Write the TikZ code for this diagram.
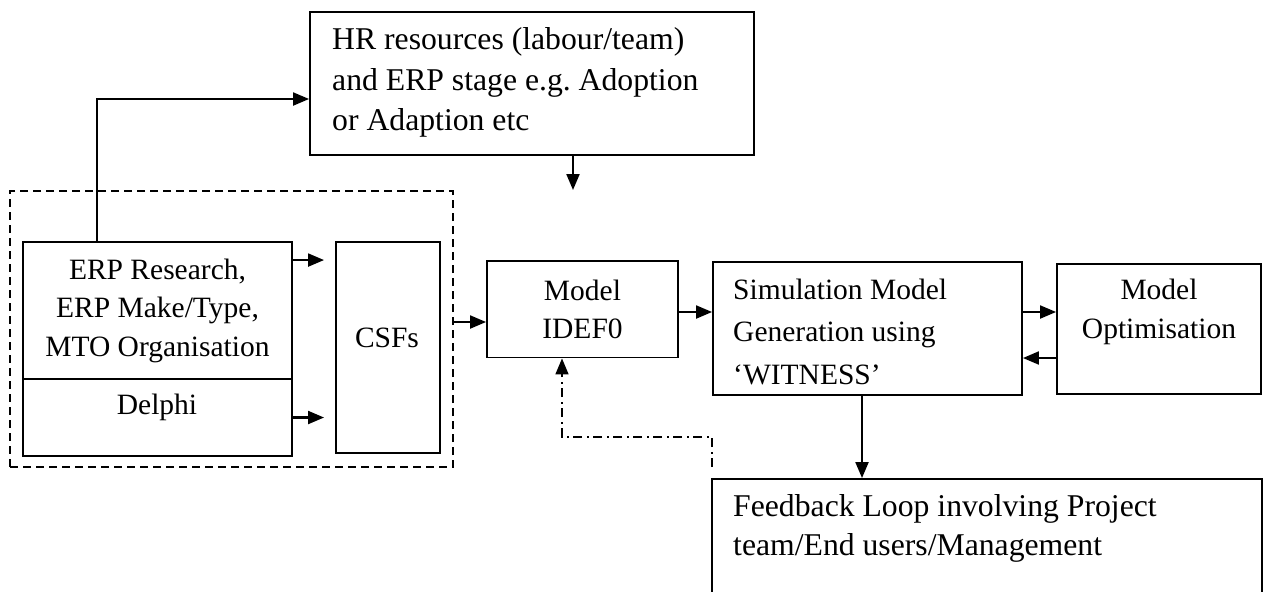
\documentclass[tikz,border=0pt]{standalone}
\usepackage{fontspec}
\setmainfont{Liberation Serif}
\usetikzlibrary{arrows.meta}
\begin{document}
\begin{tikzpicture}[x=1pt,y=-1pt,
  box/.style={draw, line width=1.9pt, inner sep=0pt},
  txt/.style={font=\fontsize{29.5}{39}\selectfont, inner sep=0pt},
  bigtxt/.style={font=\fontsize{31.7}{40.5}\selectfont, inner sep=0pt},
  arr/.style={line width=2.1pt, -{Triangle[length=16pt,width=13pt]}},
  dashdot/.style={line width=1.7pt, dash pattern=on 9pt off 4.5pt on 2pt off 4.5pt,
                  -{Triangle[length=16pt,width=13pt]}},
  groupbox/.style={draw, line width=1.5pt, dash pattern=on 8pt off 5pt, inner sep=0pt},
]
\useasboundingbox (0,0) rectangle (1270,592);
\clip (0,0) rectangle (1270,592);

% dashed grouping of the research inputs and the CSFs
\node[groupbox, minimum width=443pt, minimum height=276pt] (grp) at (231.5,329) {};

% boxes and their texts
\node[box, minimum width=444pt, minimum height=143pt] (hr) at (532,83.5) {};
\node[bigtxt, align=left, anchor=west] (hrtext) at (332,82.5)
  {HR resources (labour/team)\\and ERP stage e.g.\ Adoption\\or Adaption etc};

\node[box, txt, align=center, font=\fontsize{29.5}{38.5}\selectfont,
      minimum width=269pt, minimum height=137pt] (erp) at (157.5,310.5)
  {ERP Research,\\ERP Make/Type,\\MTO Organisation};
\node[box, minimum width=269pt, minimum height=77pt] (delphi) at (157.5,417.5) {};
\node[txt] (delphitext) at (157,407) {Delphi};

\node[box, minimum width=104pt, minimum height=211pt] (csf) at (388,347.5) {};
\node[txt] (csftext) at (387,338) {CSFs};

\node[box, txt, align=center, font=\fontsize{29.5}{38}\selectfont,
      minimum width=191pt, minimum height=96.5pt] (model) at (582.5,309.25)
  {Model\\IDEF0};

\node[box, minimum width=309pt, minimum height=133pt] (sim) at (867.5,328.5) {};
\node[txt, align=left, anchor=west, font=\fontsize{29.5}{42.5}\selectfont] (simtext) at (733,331.5)
  {Simulation Model\\Generation using\\‘WITNESS’};

\node[box, minimum width=204pt, minimum height=130pt] (opt) at (1159,329) {};
\node[txt, align=center] (opttext) at (1159,311.5) {Model\\Optimisation};

\node[box, minimum width=550pt, minimum height=141pt] (fb) at (987,549.5) {};
\node[bigtxt, align=left, anchor=west, font=\fontsize{31.7}{39.5}\selectfont] (fbtext) at (733,528.5)
  {Feedback Loop involving Project\\team/End users/Management};

% connectors
\draw[arr] ([xshift=74.5pt]erp.north west) |- ([yshift=-15.5pt]hr.west);

\coordinate (hrout) at (573,190);
\draw[arr] (hr.south -| hrout) -- (hrout);

\coordinate (e1) at ([yshift=-19pt]erp.north east);
\draw[arr, shorten >=11pt] (e1) -- (e1 -| csf.west);
\draw[arr, shorten >=11pt] (delphi.east) -- (delphi.east -| csf.west);

\coordinate (m1) at ([yshift=-12.75pt]model.west);
\draw[arr] (m1 -| grp.east) -- (m1);

\coordinate (s1) at ([yshift=16.5pt]sim.west);
\draw[arr] (s1 -| model.east) -- (s1);

\coordinate (o1) at ([yshift=17pt]opt.west);
\draw[arr] (o1 -| sim.east) -- (o1);
\coordinate (o2) at ([yshift=-29pt]opt.west);
\draw[arr] (o2) -- (o2 -| sim.east);

\coordinate (s2) at ([xshift=-5.5pt]sim.south);
\draw[arr] (s2) -- (s2 |- fb.north);

\coordinate (fbup) at ([xshift=1pt,yshift=11pt]fb.north west);
\draw[dashdot] (fbup) -- ++(0,-30) -| ([xshift=-20.5pt]model.south);
\end{tikzpicture}
\end{document}
